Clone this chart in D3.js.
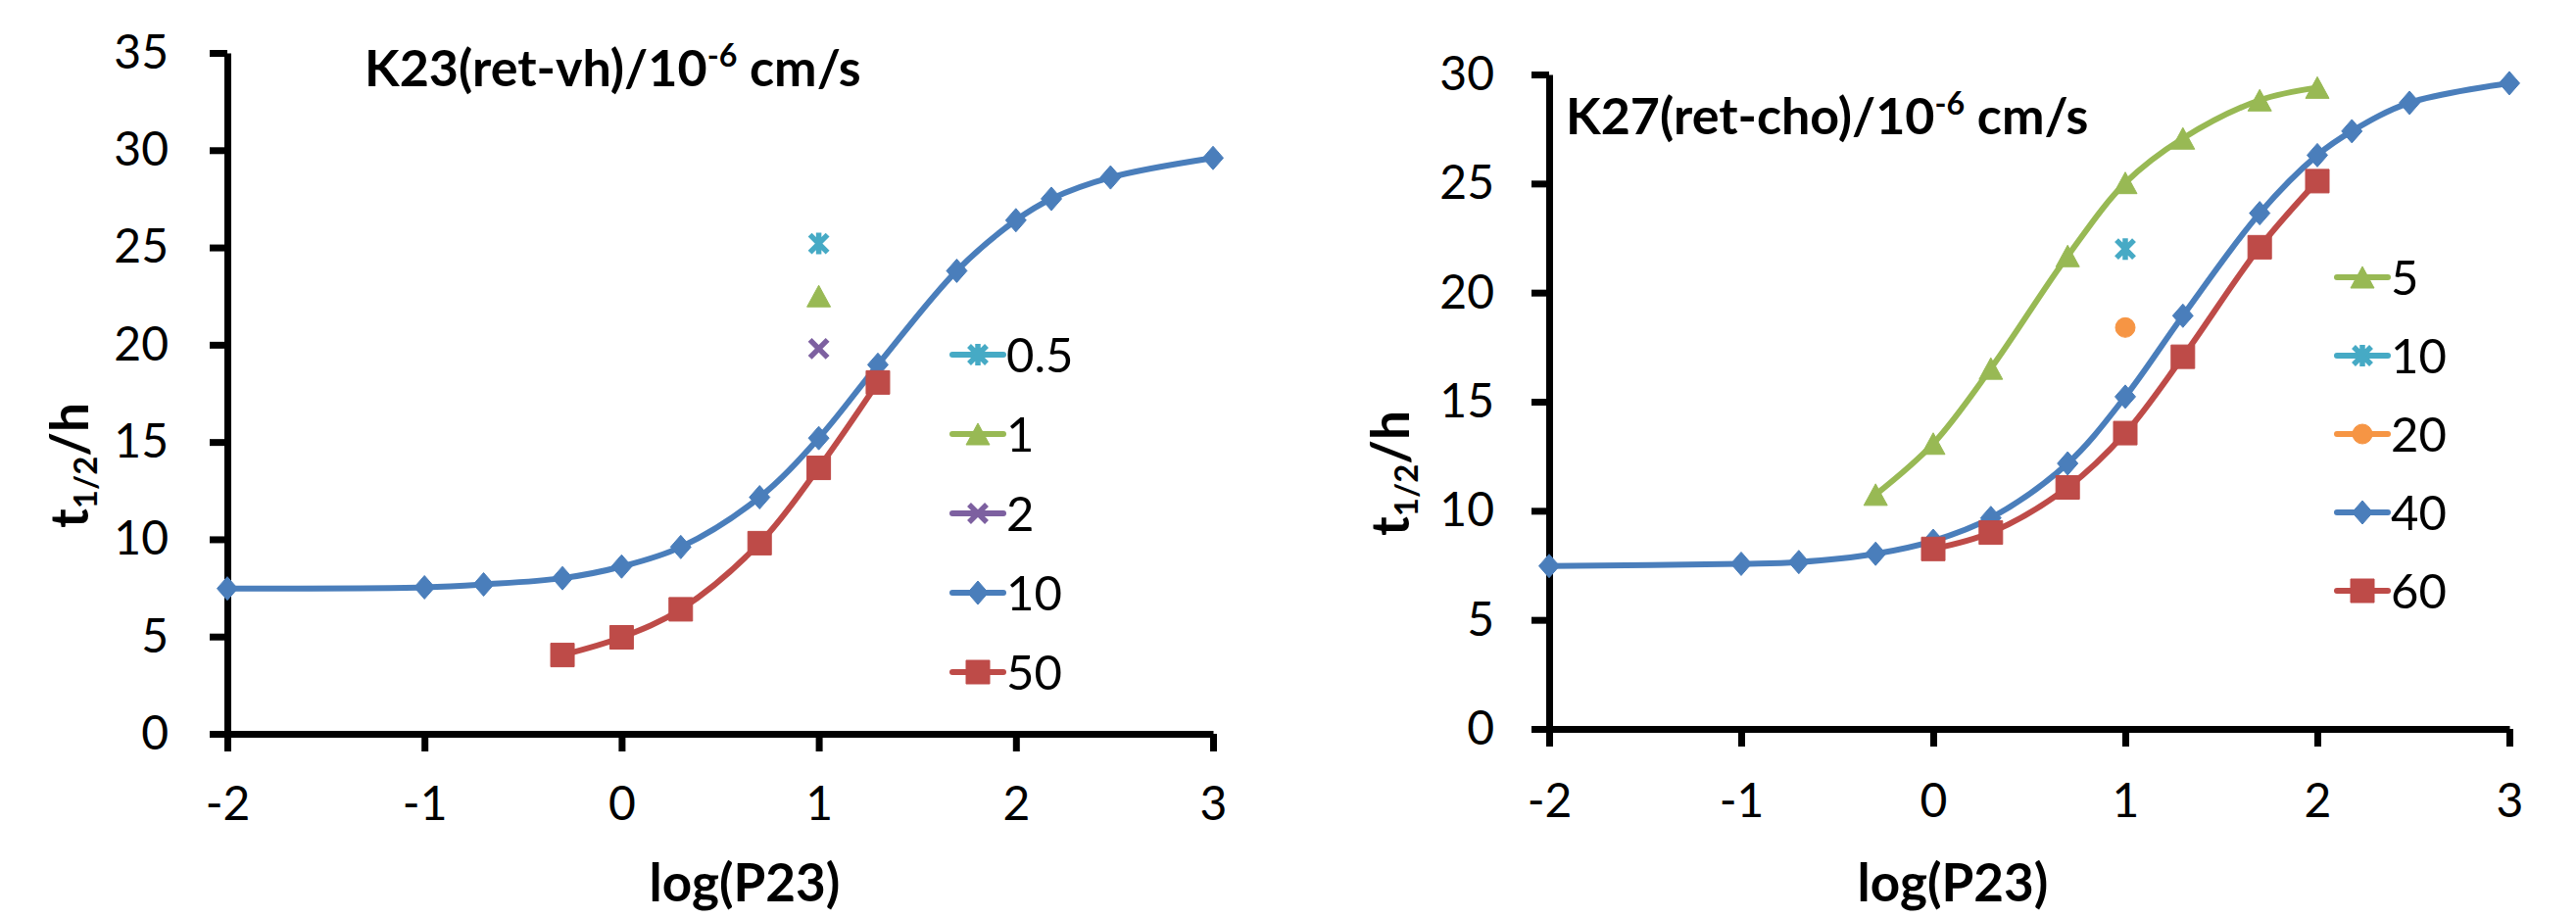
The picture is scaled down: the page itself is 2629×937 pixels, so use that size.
<!DOCTYPE html>
<html>
<head>
<meta charset="utf-8">
<script src="https://cdn.jsdelivr.net/npm/d3@7"></script>
<style>
  html, body { margin: 0; padding: 0; background: #fff; }
  svg { display: block; }
  text { font-family: Lato, "Open Sans", sans-serif; fill: #000; }
</style>
</head>
<body>
<svg id="chart" width="2629" height="937"></svg>
<script>
// ---------------- DATA ----------------
const logP = [-2, -1, -0.7, -0.3, 0, 0.3, 0.7, 1, 1.3, 1.7, 2, 2.18, 2.48, 3];
const xTicks = [-2, -1, 0, 1, 2, 3];
const yTicksLeft = [0, 5, 10, 15, 20, 25, 30, 35];
const yTicksRight = [0, 5, 10, 15, 20, 25, 30];

// Left panel: K23(ret-vh)
const leftLabels = ["0.5", "1", "2", "10", "50"];
const left05_x = [1];
const left05_y = [25.2];
const left1_x = [1];
const left1_y = [22.5];
const left2_x = [1];
const left2_y = [19.8];
const left10_x = logP;
const left10_y = [7.47, 7.53, 7.68, 8.0, 8.6, 9.6, 12.16, 15.2, 18.97, 23.8, 26.4, 27.5, 28.6, 29.6];
const left50_x = [-0.3, 0, 0.3, 0.7, 1, 1.3];
const left50_y = [4.05, 4.96, 6.4, 9.8, 13.67, 18.06];

// Right panel: K27(ret-cho)
const rightLabels = ["5", "10", "20", "40", "60"];
const right5_x = [-0.3, 0, 0.3, 0.7, 1, 1.3, 1.7, 2];
const right5_y = [10.74, 13.08, 16.52, 21.68, 25.03, 27.07, 28.82, 29.4];
const right10_x = [1];
const right10_y = [22.0];
const right20_x = [1];
const right20_y = [18.4];
const right40_x = logP;
const right40_y = [7.47, 7.57, 7.65, 8.03, 8.62, 9.67, 12.17, 15.23, 18.94, 23.64, 26.3, 27.4, 28.7, 29.6];
const right60_x = [0, 0.3, 0.7, 1, 1.3, 1.7, 2];
const right60_y = [8.25, 9.0, 11.07, 13.56, 17.06, 22.08, 25.11];

// ---------------- STYLE ----------------
const C = {
  blue: "#4A7EBB", red: "#BE4B48", green: "#98B954",
  purple: "#7D60A0", cyan: "#46AAC5", orange: "#F69544"
};
const FONT_TICK = 48;
const FONT_TITLE = 52;
const FONT_AXIS_TITLE = 53;

const svg = d3.select("#chart");

// marker path generators (centered at 0,0)
function markerPath(type) {
  const p = d3.path();
  if (type === "diamond") {
    const w = 10.5, h = 12;
    p.moveTo(0, -h); p.lineTo(w, 0); p.lineTo(0, h); p.lineTo(-w, 0); p.closePath();
  } else if (type === "square") {
    const s = 12;
    p.rect(-s, -s, 2 * s, 2 * s);
  } else if (type === "triangle") {
    const w = 12, h = 11;
    p.moveTo(0, -h); p.lineTo(w, h); p.lineTo(-w, h); p.closePath();
  } else if (type === "circle") {
    p.arc(0, 0, 10, 0, 2 * Math.PI);
  } else if (type === "x") {
    const s = 9;
    p.moveTo(-s, -s); p.lineTo(s, s); p.moveTo(s, -s); p.lineTo(-s, s);
  } else if (type === "star") {
    const s = 9;
    p.moveTo(-s, -s); p.lineTo(s, s); p.moveTo(s, -s); p.lineTo(-s, s);
    p.moveTo(0, -s - 2); p.lineTo(0, s + 2);
  }
  return p.toString();
}
function drawMarker(g, type, color, x, y) {
  const stroked = (type === "x" || type === "star");
  g.append("path")
    .attr("d", markerPath(type))
    .attr("transform", `translate(${x},${y})`)
    .attr("fill", stroked ? "none" : color)
    .attr("stroke", color)
    .attr("stroke-width", stroked ? 5.5 : 1);
}

function panel(cfg) {
  const x = d3.scaleLinear().domain([-2, 3]).range(cfg.xRange);
  const y = d3.scaleLinear().domain([0, cfg.yMax]).range(cfg.yRange);
  const g = svg.append("g");

  // axes
  const ax = g.append("g").attr("transform", `translate(0,${cfg.yRange[0]})`)
    .call(d3.axisBottom(x).tickValues(xTicks).tickSize(18).tickSizeOuter(0).tickPadding(cfg.xPad)
      .tickFormat(d3.format("d")));
  const ay = g.append("g").attr("transform", `translate(${cfg.xRange[0]},0)`)
    .call(d3.axisLeft(y).tickValues(cfg.yTicks).tickSize(18).tickSizeOuter(0).tickPadding(cfg.yPad)
      .tickFormat(d3.format("d")));
  [ax, ay].forEach(a => {
    a.selectAll("path.domain").attr("stroke", "#000").attr("stroke-width", 7);
    a.selectAll(".tick line").attr("stroke", "#000").attr("stroke-width", 7);
    a.selectAll(".tick text").attr("font-size", FONT_TICK).attr("font-family", "Lato")
      .attr("fill", "#000");
  });
  ax.selectAll(".tick text").text(d => d < 0 ? "-" + Math.abs(d) : d);

  // series
  const line = d3.line().x(d => x(d[0])).y(d => y(d[1])).curve(d3.curveCatmullRom.alpha(0.5));
  cfg.series.forEach(s => {
    const pts = s.xs.map((v, i) => [v, s.ys[i]]);
    if (pts.length > 1) {
      g.append("path").datum(pts).attr("d", line)
        .attr("fill", "none").attr("stroke", s.color).attr("stroke-width", 6)
        .attr("stroke-linejoin", "round").attr("stroke-linecap", "round");
    }
    const mg = g.append("g");
    pts.forEach(p => drawMarker(mg, s.marker, s.color, x(p[0]), y(p[1])));
  });

  // legend
  cfg.series.forEach((s, i) => {
    const ly = cfg.legendY0 + i * cfg.legendStep;
    const lg = g.append("g");
    lg.append("line").attr("x1", cfg.legendX).attr("x2", cfg.legendX + 52)
      .attr("y1", ly).attr("y2", ly).attr("stroke", s.color).attr("stroke-width", 6)
      .attr("stroke-linecap", "round");
    drawMarker(lg, s.marker, s.color, cfg.legendX + 26, ly);
    lg.append("text").attr("x", cfg.legendX + 55).attr("y", ly).attr("dy", "0.36em")
      .attr("font-size", FONT_TICK + 1).text(s.label);
  });

  // chart title with superscript
  const t = g.append("text").attr("x", cfg.titleX).attr("y", cfg.titleY)
    .attr("font-size", FONT_TITLE).attr("font-weight", 700);
  t.append("tspan").text(cfg.titleMain);
  t.append("tspan").attr("font-size", FONT_TITLE * 0.62).attr("dy", -20).text("-6");
  t.append("tspan").attr("dy", 20).text(" cm/s");

  // axis titles
  g.append("text").attr("x", cfg.xTitleX).attr("y", 920).attr("text-anchor", "middle")
    .attr("font-size", FONT_AXIS_TITLE).attr("font-weight", 700).text("log(P23)");
  const yt = g.append("text")
    .attr("transform", `translate(${cfg.yTitleX},${cfg.yTitleY}) rotate(-90)`)
    .attr("text-anchor", "middle").attr("font-size", FONT_AXIS_TITLE).attr("font-weight", 700);
  yt.append("tspan").text("t");
  yt.append("tspan").attr("font-size", FONT_AXIS_TITLE * 0.62).attr("dy", 9).text("1/2");
  yt.append("tspan").attr("dy", -9).text("/h");
}

panel({
  xRange: [232, 1238], yRange: [749, 54], yMax: 35, yTicks: yTicksLeft,
  xPad: 36, yPad: 42,
  titleMain: "K23(ret-vh)/10", titleX: 372, titleY: 88,
  xTitleX: 760, yTitleX: 90, yTitleY: 475,
  legendX: 972, legendY0: 362, legendStep: 81,
  series: [
    { label: leftLabels[0], xs: left05_x, ys: left05_y, color: C.cyan, marker: "star" },
    { label: leftLabels[1], xs: left1_x, ys: left1_y, color: C.green, marker: "triangle" },
    { label: leftLabels[2], xs: left2_x, ys: left2_y, color: C.purple, marker: "x" },
    { label: leftLabels[3], xs: left10_x, ys: left10_y, color: C.blue, marker: "diamond" },
    { label: leftLabels[4], xs: left50_x, ys: left50_y, color: C.red, marker: "square" }
  ]
});

panel({
  xRange: [1581, 2561], yRange: [744, 76], yMax: 30, yTicks: yTicksRight,
  xPad: 38, yPad: 38,
  titleMain: "K27(ret-cho)/10", titleX: 1598, titleY: 137,
  xTitleX: 1993, yTitleX: 1438, yTitleY: 483,
  legendX: 2385, legendY0: 283, legendStep: 80,
  series: [
    { label: rightLabels[0], xs: right5_x, ys: right5_y, color: C.green, marker: "triangle" },
    { label: rightLabels[1], xs: right10_x, ys: right10_y, color: C.cyan, marker: "star" },
    { label: rightLabels[2], xs: right20_x, ys: right20_y, color: C.orange, marker: "circle" },
    { label: rightLabels[3], xs: right40_x, ys: right40_y, color: C.blue, marker: "diamond" },
    { label: rightLabels[4], xs: right60_x, ys: right60_y, color: C.red, marker: "square" }
  ]
});
</script>
</body>
</html>
